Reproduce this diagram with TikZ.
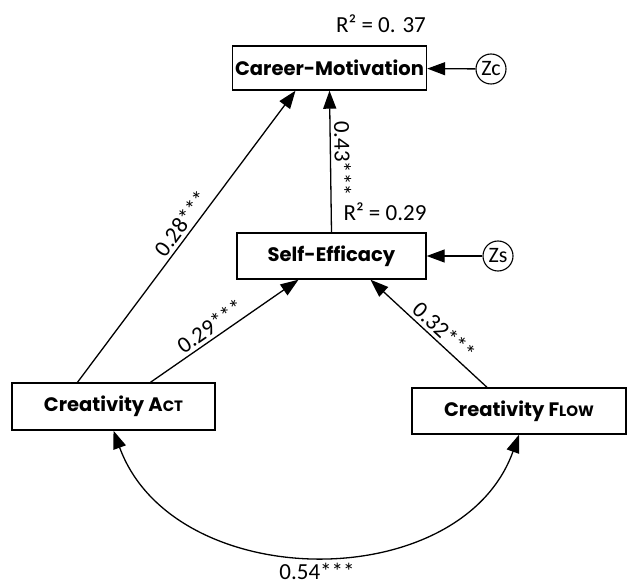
\documentclass[tikz,border=0pt]{standalone}
\usepackage{fontspec}
\setmainfont{Carlito}
\newfontfamily\boxfont{Poppins}
\usepackage{xcolor}
\usetikzlibrary{positioning, arrows.meta}
\definecolor{ink}{RGB}{0,0,0}

\begin{document}
\begin{tikzpicture}[x=1pt, y=-1pt,
    construct/.style={rectangle, draw=ink, line width=1.4pt, fill=white, text=ink,
                font=\boxfont\bfseries\fontsize{19.5}{22}\selectfont, inner sep=0pt},
    resid/.style={circle, draw=ink, line width=1.1pt, fill=white, text=ink,
                font=\fontsize{22}{22}\selectfont, inner sep=0pt, minimum size=30pt},
    path/.style={draw=ink, line width=1.3pt, -{Triangle[length=18pt, width=13pt]}},
    coef/.style={font=\fontsize{23}{24}\selectfont, text=ink, sloped, above=0pt}
  ]
  \useasboundingbox (0,0) rectangle (627,588);

  % --- constructs ---
  \node[construct, minimum width=194pt, minimum height=44pt] (career) at (329.5,68) {Career-Motivation};
  \node[construct, minimum width=189pt, minimum height=46pt] (self) at (331.5,256) {Self-Efficacy};
  \node[construct, minimum width=203pt, minimum height=47pt] (act) at (113.5,406.5)
       {Creativity A{\fontsize{15}{16}\selectfont CT}};
  \node[construct, minimum width=214pt, minimum height=46pt] (flow) at (519,411)
       {Creativity F{\fontsize{15}{16}\selectfont LOW}};

  % residuals
  \node[resid] (zc) at (491,69) {Zc};
  \node[resid] (zs) at (498,256) {Zs};

  % explained variance
  \node[font=\fontsize{23}{24}\selectfont, text=ink] (r2c) at (381,24) {R² = 0. 37};
  \node[font=\fontsize{23}{24}\selectfont, text=ink] (r2s) at (385,212) {R² = 0.29};

  % --- paths ---
  \draw[path] ([xshift=-36pt]act.north) -- node[coef, pos=0.52] {0.28***} ([xshift=-34pt]career.south);
  \draw[path] ([xshift=37pt]act.north) -- node[coef, pos=0.45] {0.29***} ([xshift=-33pt]self.south);
  \draw[path] ([xshift=-32pt]flow.north) -- node[coef, pos=0.44] {0.32***} ([xshift=39pt]self.south);
  \draw[path] (self.north) -- node[coef, pos=0.52] {0.43***} (career.south);
  \draw[path] (zc) -- (career);
  \draw[path] (zs) -- (self);

  % correlation
  \draw[draw=ink, line width=1.3pt, {Triangle[length=18pt, width=13pt]}-{Triangle[length=18pt, width=13pt]}]
       (act.south) .. controls +(60,164) and +(-58,162) .. node[pos=0.5, below=8pt, inner sep=0pt, font=\fontsize{23}{24}\selectfont, text=ink] {0.54***} (flow.south);
\end{tikzpicture}
\end{document}
